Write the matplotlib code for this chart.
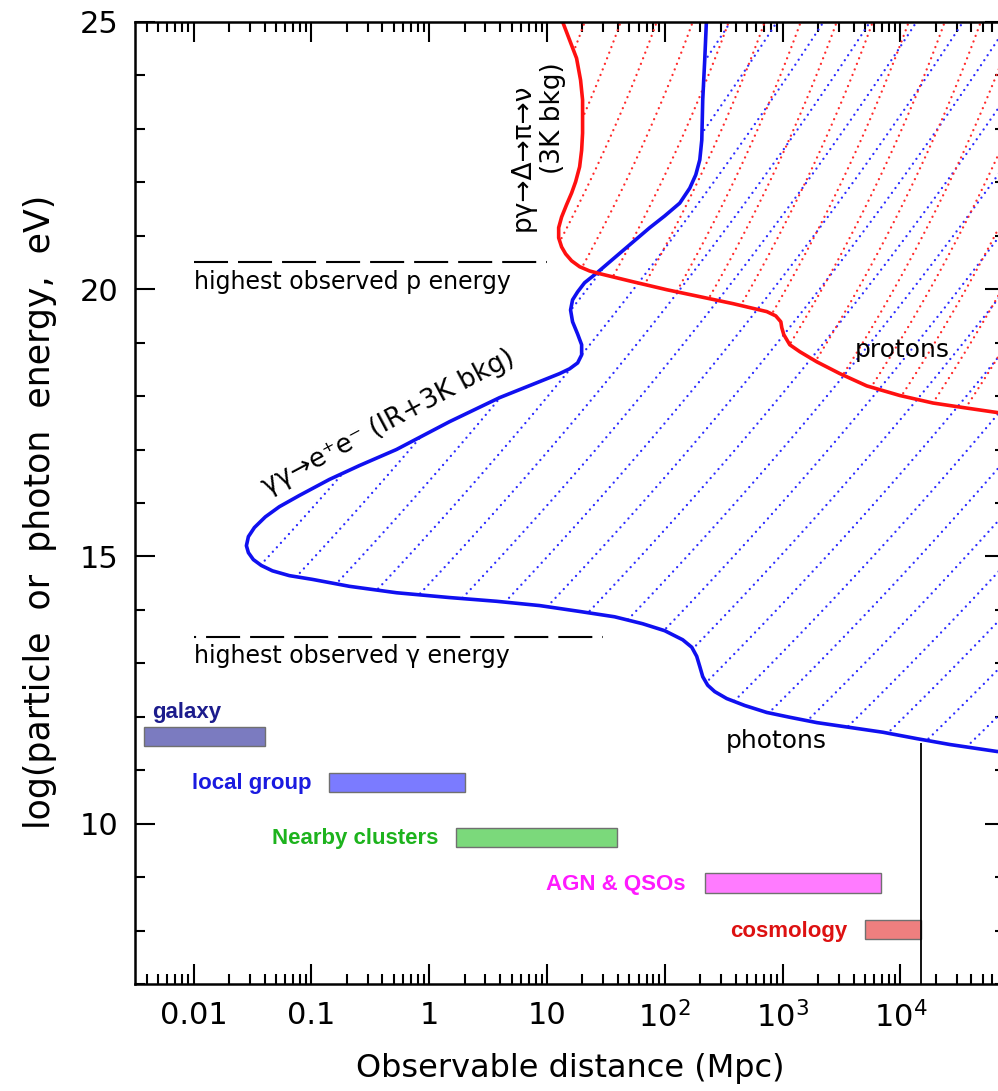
import numpy as np
import matplotlib
matplotlib.use('Agg')
import matplotlib.pyplot as plt
from matplotlib.patches import Polygon
from matplotlib.collections import LineCollection
from matplotlib.ticker import LogLocator, NullFormatter, MultipleLocator, FixedLocator

plt.rcParams['font.family'] = 'DejaVu Sans'
plt.rcParams['lines.scale_dashes'] = False

# photon horizon, gamma gamma -> e+ e- on IR + 3K background (log10 Mpc, log10 eV)
photon_logd = [2.353, 2.339, 2.322, 2.314, 2.297, 2.263, 2.212, 2.127, 1.999, 1.872,
               1.702, 1.532, 1.421, 1.319, 1.260, 1.217, 1.200, 1.217, 1.260, 1.294,
               1.294, 1.260, 1.192, 1.107, 0.937, 0.597, 0.172, -0.278, -0.592, -0.847,
               -1.102, -1.272, -1.391, -1.484, -1.535, -1.552, -1.535, -1.493, -1.425,
               -1.331, -1.187, -0.992, -0.677, -0.278, 0.172, 0.572, 0.937, 1.277, 1.574,
               1.812, 1.999, 2.152, 2.229, 2.271, 2.297, 2.322, 2.364, 2.424, 2.526,
               2.679, 2.866, 3.061, 3.291, 3.571, 3.851, 4.140, 4.421, 4.820, 5.000]
photon_loge = [25.00, 24.29, 23.54, 22.79, 22.42, 22.14, 21.89, 21.61, 21.37, 21.15,
               20.83, 20.51, 20.30, 20.12, 19.95, 19.80, 19.61, 19.39, 19.16, 18.96,
               18.77, 18.62, 18.51, 18.42, 18.27, 17.97, 17.52, 17.00, 16.70, 16.44,
               16.14, 15.93, 15.74, 15.54, 15.37, 15.20, 15.07, 14.94, 14.83,
               14.73, 14.64, 14.57, 14.44, 14.32, 14.23, 14.16, 14.08, 13.97, 13.87,
               13.74, 13.61, 13.44, 13.30, 13.13, 12.94, 12.75, 12.59, 12.47, 12.34,
               12.21, 12.08, 11.99, 11.89, 11.80, 11.71, 11.59, 11.48, 11.35, 11.32]

# proton horizon, p gamma -> Delta -> pi -> nu on the 3K background
proton_logd = [1.133, 1.192, 1.251, 1.285, 1.302, 1.302, 1.294, 1.277, 1.243, 1.209,
               1.166, 1.124, 1.099, 1.099, 1.124, 1.158, 1.209, 1.277, 1.362, 1.447,
               1.727, 2.016, 2.297, 2.577, 2.866, 2.942, 2.985, 2.993, 3.010, 3.061,
               3.146, 3.291, 3.486, 3.715, 3.996, 4.276, 4.548, 4.828, 5.000]
proton_loge = [25.00, 24.66, 24.32, 23.91, 23.54, 22.92, 22.60, 22.29, 22.01, 21.80,
               21.58, 21.35, 21.15, 20.96, 20.79, 20.66, 20.53, 20.42, 20.34, 20.29,
               20.14, 19.99, 19.86, 19.73, 19.58, 19.50, 19.39, 19.28, 19.15, 18.96,
               18.83, 18.64, 18.42, 18.19, 18.01, 17.87, 17.78, 17.69, 17.66]

# distance scales (Mpc) and the energy band each bar sits in
scale_names = ['galaxy', 'local group', 'Nearby clusters', 'AGN & QSOs', 'cosmology']
scale_lo = [0.0038, 0.14, 1.7, 220, 5000]
scale_hi = [0.040, 2.0, 39, 6900, 15000]
scale_elo = [11.46, 10.60, 9.57, 8.71, 7.85]
scale_ehi = [11.81, 10.94, 9.91, 9.07, 8.20]

max_p_energy = 20.5
max_gamma_energy = 13.5
horizon_mpc = 15000
horizon_top = 11.5

bar_faces = ['#7b7bc0', '#7b7bff', '#7bd97b', '#ff7bff', '#ef7f7f']
text_cols = ['#1c1c8c', '#1a1ae0', '#1db31d', '#ff1aff', '#dd1111']
label_pos = [(0.00445, 12.08), (0.00975, 10.75), (0.0467, 9.73), (9.9, 8.87), (356, 7.99)]

fig = plt.figure(figsize=(9.98, 10.91), dpi=100)
ax = fig.add_axes([0.135, 0.0981, 0.872, 0.8818])
ax.set_xscale('log')
ax.set_xlim(10 ** -2.5, 10 ** 4.888)
ax.set_ylim(7, 25)

W = ax.get_position().width * fig.bbox.width
H = ax.get_position().height * fig.bbox.height


def hatch_right_of(logd, loge, color, ang_lo, ang_hi, y_lo, step, ref):
    xs = 10 ** np.asarray(logd)
    verts = list(zip(xs, loge)) + [(1e7, loge[-1]), (1e7, 25)]
    region = Polygon(verts, closed=True, facecolor='none', edgecolor='none')
    ax.add_patch(region)
    Y = np.linspace(0, H, 500)
    theta = np.radians(np.interp(Y, [y_lo, H], [ang_lo, ang_hi]))
    run = np.concatenate([[0], np.cumsum(np.diff(Y) / np.tan(theta[1:]))])
    x_start = ref[0] - np.interp(ref[1], Y, run)
    x_start = x_start - step * np.ceil((x_start + 3 * W) / step)
    segs = [np.column_stack([(x0 + run) / W, Y / H])
            for x0 in np.arange(x_start, W + step, step)]
    lc = LineCollection(segs, colors=color, linewidths=1.7,
                        linestyles=[(0, (0.01, 4.3))], capstyle='round',
                        transform=ax.transAxes)
    lc.set_clip_path(region)
    ax.add_collection(lc)


hatch_right_of(photon_logd, photon_loge, '#2b2bff', 44, 57, 234, 46.5, (465.3, 384))
hatch_right_of(proton_logd, proton_loge, '#ff2b2b', 56, 70, 560, 36, (450, 962))

ax.plot(10 ** np.array(photon_logd), photon_loge, color='#1010f0', lw=2.6,
        solid_joinstyle='round')
ax.plot(10 ** np.array(proton_logd), proton_loge, color='#ff1010', lw=2.6,
        solid_joinstyle='round')

# highest observed energies
ax.plot([0.01, 10], [max_p_energy] * 2, color='k', lw=1.5, dashes=(24.5, 7.2))
ax.plot([0.01, 30], [max_gamma_energy] * 2, color='k', lw=1.5,
        linestyle=(23.0, (24.5, 7.2)))
ax.text(0.0101, 20.14, 'highest observed p energy', fontsize=17, va='center')
ax.text(0.0101, 13.13, 'highest observed γ energy', fontsize=17, va='center')

ax.text(10 ** 0.793, 22.47, 'pγ→Δ→π→ν', rotation=90, fontsize=19,
        ha='center', va='center')
ax.text(10 ** 1.048, 23.20, '(3K bkg)', rotation=90, fontsize=19,
        ha='center', va='center')
ax.text(0.45, 17.5, 'γγ→e⁺e⁻ (IR+3K bkg)', rotation=28, fontsize=19,
        ha='center', va='center', rotation_mode='anchor')
ax.text(10 ** 4.013, 18.87, 'protons', fontsize=18, ha='center', va='center')
ax.text(10 ** 2.942, 11.54, 'photons', fontsize=18, ha='center', va='center')

# distance scale bars
for name, lo, hi, elo, ehi, fc, tc, pos in zip(scale_names, scale_lo, scale_hi,
                                              scale_elo, scale_ehi, bar_faces,
                                              text_cols, label_pos):
    ax.barh((elo + ehi) / 2, hi - lo, height=ehi - elo, left=lo, color=fc,
            edgecolor='#707070', linewidth=1.0)
    ax.text(pos[0], pos[1], name, color=tc, fontsize=16, fontweight='bold',
            family='Liberation Sans', ha='left', va='center')

ax.vlines(horizon_mpc, 7, horizon_top, color='k', lw=1.3)

# axes and ticks
ax.set_xticks([0.01, 0.1, 1, 10, 100, 1000, 10000])
ax.set_xticklabels(['0.01', '0.1', '1', '10', r'$10^2$', r'$10^3$', r'$10^4$'])
ax.xaxis.set_minor_locator(LogLocator(base=10, subs=range(2, 10), numticks=30))
ax.xaxis.set_minor_formatter(NullFormatter())
ax.yaxis.set_major_locator(FixedLocator([10, 15, 20, 25]))
ax.yaxis.set_minor_locator(MultipleLocator(1))
ax.tick_params(which='both', direction='in', top=True, right=True, width=1.5)
ax.tick_params(which='major', length=14.4, labelsize=22)
ax.tick_params(which='minor', length=7.2)
ax.tick_params(axis='x', which='major', pad=12)
ax.tick_params(axis='y', which='major', pad=12)
for s in ax.spines.values():
    s.set_linewidth(1.8)

fig.text(570 / 998, 1 - 1068 / 1091, 'Observable distance (Mpc)', fontsize=23,
         ha='center', va='center')
fig.text(40 / 998, 1 - 512 / 1091, 'log(particle  or  photon  energy,  eV)',
         fontsize=25, rotation=90, ha='center', va='center')

fig.savefig('out.png', dpi=100)
